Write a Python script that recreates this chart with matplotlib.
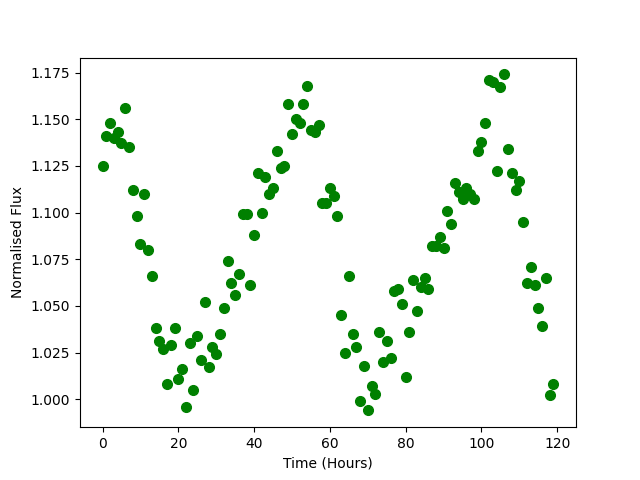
import numpy as np
import matplotlib
matplotlib.use('Agg')
import matplotlib.pyplot as plt

# time in hours
hours = list(range(120))

# normalised flux
flux = [1.125, 1.141, 1.148, 1.140, 1.143, 1.137, 1.156, 1.135, 1.112, 1.098,
        1.083, 1.110, 1.080, 1.066, 1.038, 1.031, 1.027, 1.008, 1.029, 1.038,
        1.011, 1.016, 0.996, 1.030, 1.005, 1.034, 1.021, 1.052, 1.017, 1.028,
        1.024, 1.035, 1.049, 1.074, 1.062, 1.056, 1.067, 1.099, 1.099, 1.061,
        1.088, 1.121, 1.100, 1.119, 1.110, 1.113, 1.133, 1.124, 1.125, 1.158,
        1.142, 1.150, 1.148, 1.158, 1.168, 1.144, 1.143, 1.147, 1.105, 1.105,
        1.113, 1.109, 1.098, 1.045, 1.025, 1.066, 1.035, 1.028, 0.999, 1.018,
        0.994, 1.007, 1.003, 1.036, 1.020, 1.031, 1.022, 1.058, 1.059, 1.051,
        1.012, 1.036, 1.064, 1.047, 1.060, 1.065, 1.059, 1.082, 1.082, 1.087,
        1.081, 1.101, 1.094, 1.116, 1.111, 1.107, 1.113, 1.110, 1.107, 1.133,
        1.138, 1.148, 1.171, 1.170, 1.122, 1.167, 1.174, 1.134, 1.121, 1.112,
        1.117, 1.095, 1.062, 1.071, 1.061, 1.049, 1.039, 1.065, 1.002, 1.008]

fig = plt.figure(figsize=(6.4, 4.8), dpi=100)
plt.plot(hours, flux, 'o', color='green', markersize=7)
plt.xlabel('Time (Hours)')
plt.ylabel('Normalised Flux')
plt.savefig('out.png')
